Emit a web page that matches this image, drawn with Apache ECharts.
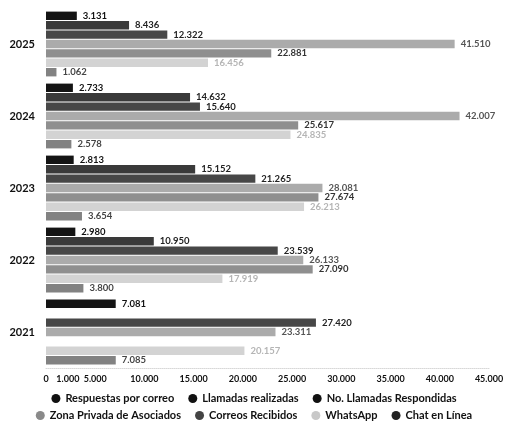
<!DOCTYPE html>
<html>
<head>
<meta charset="utf-8">
<script src="https://cdn.jsdelivr.net/npm/echarts@6/dist/echarts.min.js"></script>
<style>
html,body{margin:0;padding:0;background:#fff;}
#chart{width:508px;height:427px;}
</style>
</head>
<body>
<div id="chart"></div>
<script>
const years = ['2021', '2022', '2023', '2024', '2025'];
const seriesNames = ['Respuestas por correo', 'Llamadas realizadas', 'No. Llamadas Respondidas',
  'Zona Privada de Asociados', 'Correos Recibidos', 'WhatsApp', 'Chat en Línea'];
// values per series, ordered as years (2021..2025)
const respuestasCorreo = [7081, 2980, 2813, 2733, 3131];
const llamadasRealizadas = [null, 10950, 15152, 14632, 8436];
const llamadasRespondidas = [27420, 23539, 21265, 15640, 12322];
const zonaPrivada = [23311, 26133, 28081, 42007, 41510];
const correosRecibidos = [null, 27090, 27674, 25617, 22881];
const whatsApp = [20157, 17919, 26213, 24835, 16456];
const chatEnLinea = [7085, 3800, 3654, 2578, 1062];
const xTicks = [0, 1000, 5000, 10000, 15000, 20000, 25000, 30000, 35000, 40000, 45000];

const values = [respuestasCorreo, llamadasRealizadas, llamadasRespondidas, zonaPrivada, correosRecibidos, whatsApp, chatEnLinea];
const barColors = ['#141414', '#3a3a3a', '#474747', '#ababab', '#8f8f8f', '#d3d3d3', '#828282'];
const labelColors = ['#111', '#222', '#222', '#555', '#333', '#b5b5b5', '#444'];
const legendColors = ['#111', '#111', '#111', '#8a8a8a', '#444', '#c8c8c8', '#222'];

const fmt = v => String(v).replace(/\B(?=(\d{3})+(?!\d))/g, '.');
const FONT = 'Lato';

const series = seriesNames.map((name, i) => ({
  name: name,
  type: 'bar',
  data: values[i],
  barGap: '12%',
  barCategoryGap: '10%',
  itemStyle: { color: barColors[i] },
  label: {
    show: true,
    position: 'right',
    distance: 6,
    formatter: p => fmt(p.value),
    fontFamily: FONT,
    fontSize: 9.5,
    fontWeight: 'bold',
    color: labelColors[i]
  }
}));

const chart = echarts.init(document.getElementById('chart'), null, { renderer: 'canvas' });
chart.setOption({
  animation: false,
  backgroundColor: '#fff',
  textStyle: { fontFamily: FONT },
  grid: { left: 46, right: 19, top: 8, bottom: 59, containLabel: false },
  xAxis: {
    type: 'value',
    min: 0,
    max: 45000,
    interval: 5000,
    axisLine: { show: true, lineStyle: { color: '#d8d8d8', type: 'dotted' } },
    axisTick: { show: false },
    splitLine: { show: false },
    axisLabel: {
      customValues: xTicks,
      margin: 7,
      fontFamily: FONT,
      fontSize: 9,
      fontWeight: 'bold',
      color: '#111',
      formatter: v => v === 1000 ? '{s|' + fmt(v) + '}' : fmt(v),
      rich: { s: { padding: [0, 0, 0, 24], fontFamily: FONT, fontSize: 9, fontWeight: 'bold', color: '#111' } }
    }
  },
  yAxis: {
    type: 'category',
    data: years,
    axisLine: { show: false },
    axisTick: { show: false },
    axisLabel: { margin: 11, fontFamily: FONT, fontSize: 11, fontWeight: 'bold', color: '#111' }
  },
  legend: [
    {
      data: seriesNames.slice(0, 3).map((n, k) => ({ name: n, itemStyle: { color: legendColors[k] } })),
      bottom: 18, left: 'center', icon: 'circle', itemWidth: 9, itemHeight: 9, itemGap: 14,
      textStyle: { fontFamily: FONT, fontSize: 11, fontWeight: 'bold', color: '#111' }
    },
    {
      data: seriesNames.slice(3).map((n, k) => ({ name: n, itemStyle: { color: legendColors[k + 3] } })),
      bottom: 1, left: 'center', icon: 'circle', itemWidth: 9, itemHeight: 9, itemGap: 14,
      textStyle: { fontFamily: FONT, fontSize: 11, fontWeight: 'bold', color: '#111' }
    }
  ],
  series: series
});
</script>
</body>
</html>
